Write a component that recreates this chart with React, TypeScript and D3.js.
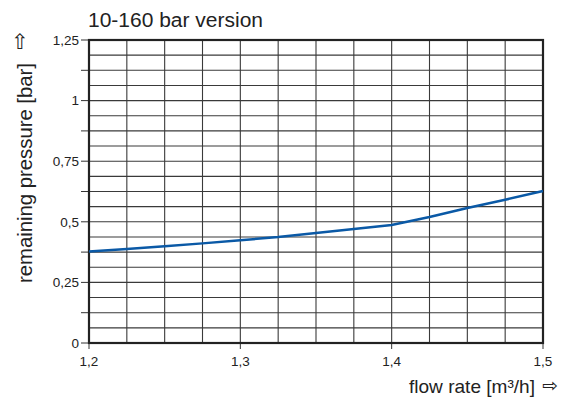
import React from "react";
import * as d3 from "d3";

const flowRate = [1.2, 1.225, 1.25, 1.275, 1.3, 1.325, 1.35, 1.375, 1.4, 1.425, 1.45, 1.475, 1.5];
const pressure = [0.377, 0.388, 0.399, 0.411, 0.424, 0.437, 0.454, 0.47, 0.487, 0.52, 0.557, 0.591, 0.627];
const xTicks = [1.2, 1.3, 1.4, 1.5];
const yTicks = [0, 0.25, 0.5, 0.75, 1, 1.25];
const xTickLabels = ["1,2", "1,3", "1,4", "1,5"];
const yTickLabels = ["0", "0,25", "0,5", "0,75", "1", "1,25"];

const W = 571;
const H = 410;
const margin = { top: 40, right: 28, bottom: 67, left: 89 };
const font = "'Liberation Sans', Arial, sans-serif";

export default function App() {
  const width = W - margin.left - margin.right;
  const height = H - margin.top - margin.bottom;

  const x = d3.scaleLinear().domain([1.2, 1.5]).range([0, width]);
  const y = d3.scaleLinear().domain([0, 1.25]).range([height, 0]);

  // grid: 12 columns of 0.025, 20 rows of 0.0625
  const vGrid = d3.range(0, 13).map((i) => 1.2 + i * 0.025);
  const hGrid = d3.range(0, 21).map((i) => i * 0.0625);
  const yMinor = d3.range(0, 11).map((i) => i * 0.125);

  const line = d3
    .line<number>()
    .x((d, i) => x(flowRate[i]))
    .y((d) => y(d));

  return (
    <svg
      width={W}
      height={H}
      style={{ position: "absolute", left: 0, top: 0, background: "#fff" }}
      fontFamily={font}
    >
      <g transform={`translate(${margin.left},${margin.top})`}>
        {hGrid.map((v, i) => (
          <line key={"h" + i} x1={0} x2={width} y1={y(v)} y2={y(v)} stroke="#3a3a3a" strokeWidth={1.1} />
        ))}
        {vGrid.map((v, i) => (
          <line key={"v" + i} x1={x(v)} x2={x(v)} y1={0} y2={height} stroke="#3a3a3a" strokeWidth={1.1} />
        ))}
        {yMinor.map((v, i) => (
          <line key={"yt" + i} x1={-8} x2={0} y1={y(v)} y2={y(v)} stroke="#333" strokeWidth={1} />
        ))}
        {xTicks.map((v, i) => (
          <line key={"xt" + i} x1={x(v)} x2={x(v)} y1={height} y2={height + 6} stroke="#333" strokeWidth={1} />
        ))}
        <rect x={0} y={0} width={width} height={height} fill="none" stroke="#222" strokeWidth={2.2} />
        <path d={line(pressure) || ""} fill="none" stroke="#0a59a6" strokeWidth={2.5} />
        {yTicks.map((v, i) => (
          <text key={"yl" + i} x={-10} y={y(v)} dy="0.35em" textAnchor="end" fontSize={13.5} fill="#222">
            {yTickLabels[i]}
          </text>
        ))}
        {xTicks.map((v, i) => (
          <text key={"xl" + i} x={x(v)} y={height + 23} textAnchor="middle" fontSize={13.5} fill="#222">
            {xTickLabels[i]}
          </text>
        ))}
      </g>
      <text x={88} y={27} fontSize={20} fill="#222" textLength={175} lengthAdjust="spacingAndGlyphs">
        10-160 bar version
      </text>
      <text
        transform={`translate(32,283) rotate(-90)`}
        fontSize={20}
        fill="#222"
        textLength={220}
        lengthAdjust="spacingAndGlyphs"
      >
        remaining pressure [bar]
      </text>
      <text x={20} y={49} textAnchor="middle" fontSize={21} fill="#222" fontFamily="'DejaVu Sans', sans-serif">⇧</text>
      <text x={535} y={393} textAnchor="end" fontSize={19} fill="#222" textLength={126} lengthAdjust="spacingAndGlyphs">
        flow rate [m³/h]
      </text>
      <text x={558} y={392} textAnchor="end" fontSize={19} fill="#222" fontFamily="'DejaVu Sans', sans-serif">⇨</text>
    </svg>
  );
}
